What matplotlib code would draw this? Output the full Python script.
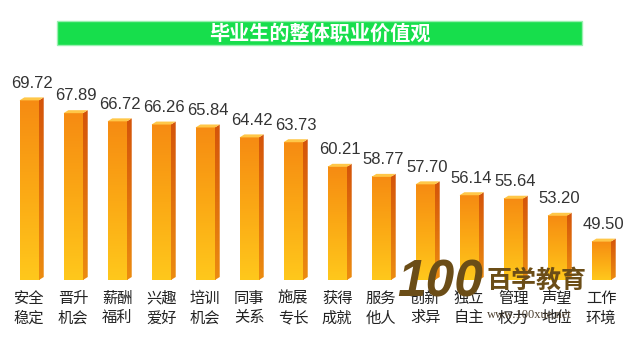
import numpy as np
import matplotlib.pyplot as plt
from matplotlib.colors import LinearSegmentedColormap
from matplotlib.patches import Polygon, Rectangle

plt.rcParams['font.family'] = ['Noto Sans CJK SC', 'DejaVu Sans']

title = "毕业生的整体职业价值观"
categories = ["安全\n稳定", "晋升\n机会", "薪酬\n福利", "兴趣\n爱好", "培训\n机会",
              "同事\n关系", "施展\n专长", "获得\n成就", "服务\n他人", "创新\n求异",
              "独立\n自主", "管理\n权力", "声望\n地位", "工作\n环境"]
values = [69.72, 67.89, 66.72, 66.26, 65.84, 64.42, 63.73,
          60.21, 58.77, 57.70, 56.14, 55.64, 53.20, 49.50]

base = 44
top = 75.5
front_cmap = LinearSegmentedColormap.from_list("front", ["#ffc81c", "#fba915", "#f68b12"])
side_cmap = LinearSegmentedColormap.from_list("side", ["#ec8c10", "#d4540a"])

fig = plt.figure(figsize=(6.4, 3.47), dpi=100)
ax = fig.add_axes([0.01125, 0.193, 0.9625, 0.634])

# bar geometry in data units (front width, depth offset)
w = 0.44
dx = 0.11
dy = 0.43
grad = np.linspace(0, 1, 256).reshape(-1, 1)

for i, v in enumerate(values):
    xl, xr = i - w / 2, i + w / 2
    ax.imshow(grad, cmap=front_cmap, origin='lower', extent=(xl, xr, base, v),
              aspect='auto', zorder=2, interpolation='bilinear')
    side = Polygon([(xr, base), (xr + dx, base + dy), (xr + dx, v + dy), (xr, v)],
                   closed=True, facecolor='none', edgecolor='none')
    ax.add_patch(side)
    im = ax.imshow(grad, cmap=side_cmap, origin='lower', extent=(xr, xr + dx, base, v + dy),
                   aspect='auto', zorder=2, interpolation='bilinear')
    im.set_clip_path(side)
    ax.add_patch(Polygon([(xl, v), (xl + dx, v + dy), (xr + dx, v + dy), (xr, v)],
                         closed=True, facecolor='#ffc748', edgecolor='none', zorder=3))
    ax.annotate(f"{v:.2f}", (i + dx / 2, v + dy), xytext=(0, 7), textcoords='offset points',
                ha='center', va='baseline', fontsize=12, color='#333333',
                family=['Liberation Sans', 'DejaVu Sans'])

ax.set_xlim(-0.5, len(values) - 0.5)
ax.set_ylim(base, top)
ax.set_xticks(range(len(categories)))
ax.set_xticklabels(categories, fontsize=11, color='#222222', linespacing=1.2)
ax.tick_params(axis='x', length=0, pad=7)
ax.set_yticks([])
for s in ax.spines.values():
    s.set_visible(False)
ax.patch.set_alpha(0)

# title banner
fig.patches.append(Rectangle((0.089, 0.870), 0.820, 0.070, transform=fig.transFigure,
                             facecolor='#17de4c', edgecolor='#9af0b0', linewidth=1))
fig.text(0.4992, 0.905, title, ha='center', va='center', fontsize=14.5,
         fontweight='bold', color='white')

# watermark
fig.text(440 / 640, 1 - 283 / 347, "100", ha='center', va='center', fontsize=37,
         fontweight='bold', style='italic', color='#6b4d17',
         family=['Liberation Sans', 'DejaVu Sans'])
fig.text(536 / 640, 1 - 281 / 347, "百学教育", ha='center', va='center', fontsize=18,
         fontweight='bold', color='#6b4d17')
fig.text(529 / 640, 1 - 315 / 347, "www.100xue.net", ha='center', va='center', fontsize=9,
         color='#4d4030', family=['Liberation Serif', 'DejaVu Serif'])

fig.savefig("out.png", dpi=100, facecolor='white')
